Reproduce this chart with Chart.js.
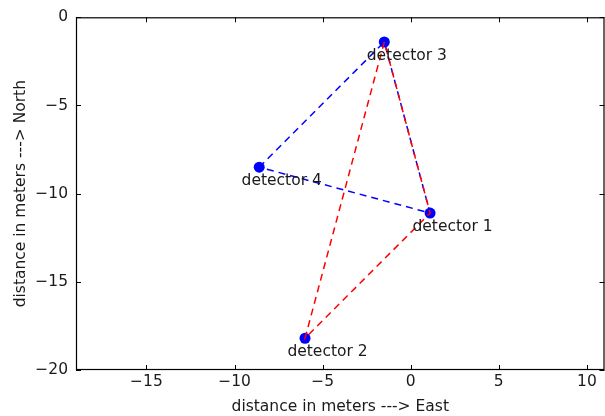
<!DOCTYPE html>
<html>
<head>
<meta charset="utf-8">
<script src="https://cdn.jsdelivr.net/npm/chart.js"></script>
<style>
  html, body { margin: 0; padding: 0; background: #fff; }
  #wrap { width: 605px; height: 416px; overflow: hidden; }
</style>
</head>
<body>
<div id="wrap"><canvas id="c" width="610" height="416"></canvas></div>
<script>
const names = ['detector 1', 'detector 2', 'detector 3', 'detector 4'];
const eastX = [1.1, -6.0, -1.5, -8.6];
const northY = [-11.1, -18.2, -1.4, -8.5];
const redPath = [2, 1, 0, 2];      // detector 3 -> 2 -> 1 -> 3
const bluePath = [3, 2, 0, 3];     // detector 4 -> 3 -> 1 -> 4
const xTicks = [-15, -10, -5, 0, 5, 10];
const yTicks = [0, -5, -10, -15, -20];

const pts = names.map((n, i) => ({ x: eastX[i], y: northY[i] }));
const pathData = p => p.map(i => pts[i]);
const font = { family: 'DejaVu Sans', size: 15.5 };
const minus = v => String(v).replace('-', '\u2212');

// canvas is 5px wider than the window: chart.js keeps room for the dot radius on the right
const frame = {
  id: 'frame',
  afterDatasetsDraw(chart) {
    const { ctx, chartArea: a, scales } = chart;
    ctx.save();
    // labels under each point
    ctx.fillStyle = '#1a1a1a';
    ctx.font = '15.5px "DejaVu Sans"';
    ctx.textAlign = 'left';
    ctx.textBaseline = 'alphabetic';
    names.forEach((n, i) => {
      ctx.fillText(n, scales.x.getPixelForValue(eastX[i] - 1), scales.y.getPixelForValue(northY[i] - 1));
    });
    ctx.strokeStyle = '#000';
    ctx.lineWidth = 1.2;
    ctx.strokeRect(a.left + 0.5, a.top + 0.5, a.right - a.left - 1, a.bottom - a.top - 1);
    ctx.lineWidth = 1;
    ctx.beginPath();
    xTicks.forEach(v => {
      const px = Math.round(scales.x.getPixelForValue(v)) + 0.5;
      ctx.moveTo(px, a.bottom); ctx.lineTo(px, a.bottom - 5);
      ctx.moveTo(px, a.top); ctx.lineTo(px, a.top + 5);
    });
    yTicks.forEach(v => {
      const py = Math.round(scales.y.getPixelForValue(v)) + 0.5;
      ctx.moveTo(a.left, py); ctx.lineTo(a.left + 5, py);
      ctx.moveTo(a.right, py); ctx.lineTo(a.right - 5, py);
    });
    ctx.stroke();
    ctx.restore();
  }
};

new Chart(document.getElementById('c'), {
  type: 'scatter',
  data: {
    datasets: [
      { data: pathData(redPath), showLine: true, borderColor: '#ff0000', borderWidth: 1.5, borderDash: [7, 5], pointRadius: 0, fill: false },
      { data: pathData(bluePath), showLine: true, borderColor: '#0000ff', borderWidth: 1.5, borderDash: [7, 5], pointRadius: 0, fill: false },
      { data: pts, showLine: false, pointRadius: 5.5, backgroundColor: '#0000ff', borderColor: '#0000ff', borderWidth: 0 }
    ]
  },
  options: {
    responsive: false,
    animation: false,
    layout: { padding: { top: 17, right: 1, left: 0, bottom: 0 } },
    plugins: { legend: { display: false }, tooltip: { enabled: false } },
    scales: {
      x: {
        type: 'linear', min: -19, max: 11,
        afterBuildTicks: s => { s.ticks = xTicks.map(v => ({ value: v })); },
        afterFit: s => { s.height = 46; },
        grid: { display: false, drawTicks: false },
        border: { display: false },
        ticks: { color: '#1a1a1a', font, padding: 3, maxRotation: 0, callback: minus },
        title: { display: true, text: 'distance in meters ---> East', color: '#1a1a1a', font, padding: { top: 1, bottom: 0 } }
      },
      y: {
        type: 'linear', min: -20, max: 0,
        afterBuildTicks: s => { s.ticks = yTicks.map(v => ({ value: v })); },
        afterFit: s => { s.width = 76; },
        grid: { display: false, drawTicks: false },
        border: { display: false },
        ticks: { color: '#1a1a1a', font, padding: 8, callback: minus },
        title: { display: true, text: 'distance in meters ---> North', color: '#1a1a1a', font, padding: { top: 12, bottom: 2 } }
      }
    }
  },
  plugins: [frame]
});
</script>
</body>
</html>
